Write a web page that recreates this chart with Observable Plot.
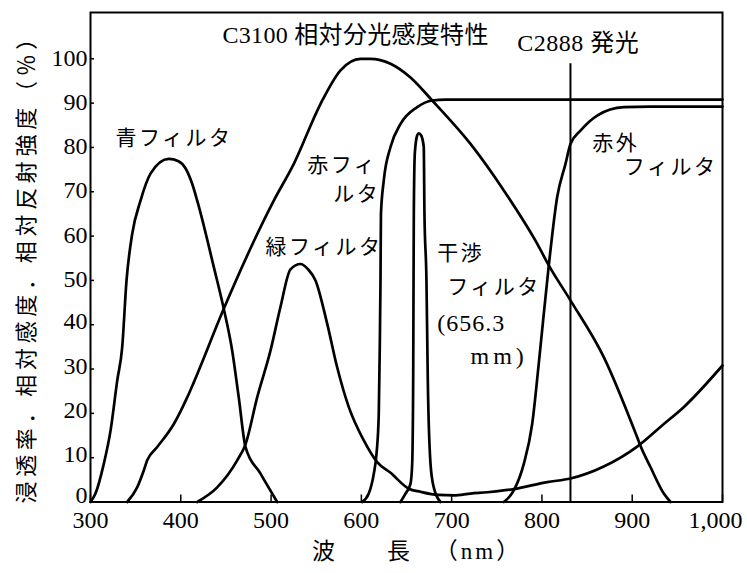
<!DOCTYPE html>
<html>
<head>
<meta charset="utf-8">
<script src="https://cdn.jsdelivr.net/npm/d3@7"></script>
<script src="https://cdn.jsdelivr.net/npm/@observablehq/plot@0.6"></script>
<style>
  body { margin: 0; background: #fff; }
</style>
</head>
<body>
<div id="chart"></div>
<script>
// ---- Data (wavelength nm, percent) ----
const xTicks = [300, 400, 500, 600, 700, 800, 900, 1000];
const yTicks = [0, 10, 20, 30, 40, 50, 60, 70, 80, 90, 100];

const blueFilter = [[300,0],[305.5,1.9],[314.7,8.6],[322.2,16.1],[329.6,27.4],[335.1,34.9],[339.9,50.0],[346.2,60.5],[355.4,68.0],[366.5,74.1],[386.7,77.4],[397.5,76.9],[405.2,75.3],[412.6,71.8],[418.2,68.0],[436.6,53.0],[447.6,43.6],[456.9,34.2],[464.2,23.6],[471.7,12.4],[488.3,6.4],[506.8,0]];

const greenFilter = [[418.2,0],[440.3,3.3],[462.5,9.4],[471.7,13.0],[484.6,23.6],[499.4,34.2],[510.4,44.0],[521.5,52.5],[532.6,53.7],[541,52.5],[549.2,50.0],[562.2,40.2],[573.2,30.4],[586.1,21.4],[602.7,13.9],[617.5,9.0],[632.3,6.6],[652.5,3.0],[665.5,2.3],[685,1.6],[702.4,1.5],[720.9,1.9],[739.4,2.2],[768.8,2.9],[805.8,4.5],[831.6,5.3],[868.5,8.0],[905.5,12.5],[935,17.6],[957,21.4],[1000,30.8]];

const c3100Sensitivity = [[340.6,0],[351.7,3.3],[359,7.1],[362.8,9.4],[373.9,12.4],[392.3,17.6],[407.1,23.6],[414.4,27.0],[447.6,43.6],[503,68.0],[525.2,76.3],[554.7,89.8],[576.9,97.4],[599,100],[610.1,100],[632.3,98.9],[654.4,95.8],[678.5,90.6],[720.9,80.8],[757.8,70.3],[794.7,58.3],[807.6,53.4],[831.6,45.5],[868.5,32.7],[905.5,14.6],[909.1,12.7],[920.2,7.9],[935,1.9],[942.4,0]];

const redFilter = [[600.9,0],[608.2,1.9],[613.8,6.4],[616.8,10.9],[619.3,19.9],[620.4,34.9],[621.2,50.0],[621.7,65.0],[624.8,72.5],[632.3,80.1],[643.4,85.3],[661.8,89.1],[678.5,90.6],[693.2,90.8],[1000,90.8]];

const interferenceFilter = [[643.3,0],[648.9,1.9],[654.4,4.1],[656.3,8.6],[657.4,27.4],[658.1,65.0],[659.2,78.6],[661.8,82.7],[663.6,83.2],[666.3,82.7],[669.1,80.1],[669.9,65.0],[672.1,50.0],[673.6,27.4],[676.6,8.6],[680.2,3.3],[687.6,0]];

const irFilter = [[757.8,0],[768.8,2.6],[779.9,8.6],[789.2,17.6],[796.5,31.2],[807.6,53.4],[816.9,68.8],[826.1,76.3],[831.6,80.8],[842.7,83.8],[861.2,87.2],[890.7,89.1],[920,89.2],[1000,89.2]];

const c2888Emission = [{nm: 831.6, peak: 98.9}];

const curves = [blueFilter, greenFilter, c3100Sensitivity, redFilter, interferenceFilter, irFilter];

// ---- Labels ----
const titleLabels = [
  {text: "C3100 相対分光感度特性", x: 446.2, y: 105.3},
  {text: "C2888 発光", x: 772.6, y: 103.4}
];
const jpLabels = [
  {text: "青フィルタ", x: 327.7, y: 82.1},
  {text: "赤フィ", x: 540, y: 75.9},
  {text: "ルタ", x: 569, y: 69.4},
  {text: "緑フィルタ", x: 493.8, y: 57.4},
  {text: "干渉", x: 684, y: 56.1},
  {text: "フィルタ", x: 695, y: 48.4},
  {text: "赤外", x: 855.6, y: 80.9},
  {text: "フィルタ", x: 890.7, y: 75.5}
];
const serifLabels = [
  {text: "(656.3", x: 684, y: 40.4},
  {text: "mm)", x: 720.9, y: 32.8}
];
const yAxisLabel = "浸透率．相対感度．相対反射強度（％）";
const xLabelParts = [
  {text: "波", x: 558.1},
  {text: "長", x: 641.1},
  {text: "（nm）", x: 729.7}
];

const fmt = d3.format(",");
const plotH = 573 - 12 - 71.5;
const plotW = 747 - 90 - 25;

const yAxisOpts = {anchor: "left", tickSize: 0, tickPadding: 3, label: null, fontSize: 24};
const xAxisOpts = {anchor: "bottom", tickSize: 0, tickPadding: 9, tickFormat: fmt, label: null, fontSize: 24};

const marks = [
  Plot.frame({stroke: "black", strokeWidth: 2}),
  Plot.tickY(yTicks, {y: d => d, insetRight: plotW - 4, stroke: "black", strokeWidth: 1.5}),
  Plot.tickX(xTicks, {x: d => d, insetTop: plotH - 7, stroke: "black", strokeWidth: 1.5}),
  Plot.axisY(yTicks.filter(d => d === 0), {...yAxisOpts, dy: -7}),
  Plot.axisY(yTicks.filter(d => d > 0 && d < 50), {...yAxisOpts, dy: -3}),
  Plot.axisY(yTicks.filter(d => d >= 50), {...yAxisOpts, dy: -1}),
  Plot.axisX(xTicks.filter(d => d < 1000), xAxisOpts),
  Plot.axisX(xTicks.filter(d => d >= 1000), {...xAxisOpts, dx: -7}),
  ...curves.map(c => Plot.line(c, {x: d => d[0], y: d => d[1], curve: "monotone-x", stroke: "black", strokeWidth: 2.7, strokeLinejoin: "round"})),
  Plot.ruleX(c2888Emission, {x: "nm", y1: 0, y2: "peak", stroke: "black", strokeWidth: 2}),
  Plot.text(titleLabels, {x: "x", y: "y", text: "text", textAnchor: "start", fontSize: 24}),
  Plot.text(jpLabels, {x: "x", y: "y", text: "text", textAnchor: "start", fontSize: 21}),
  Plot.text(serifLabels, {x: "x", y: "y", text: "text", textAnchor: "start", fontSize: 24}),
  Plot.text([yAxisLabel], {text: d => d, frameAnchor: "left", textAnchor: "middle", rotate: -90, dx: -64, dy: 6, fontSize: 22}),
  Plot.text(xLabelParts, {x: "x", text: "text", frameAnchor: "bottom", textAnchor: "middle", dy: 56.5, fontSize: 23})
];

const chart = Plot.plot({
  width: 747,
  height: 573,
  marginLeft: 90,
  marginRight: 25,
  marginTop: 12,
  marginBottom: 71.5,
  x: {domain: [300, 1000], label: null},
  y: {domain: [0, 110.45], label: null},
  style: {fontFamily: "'Liberation Serif', 'Noto Sans CJK JP', serif", background: "white", color: "black"},
  marks
});
document.getElementById("chart").append(chart);

// letter spacing of the annotation texts (matched by content)
const spacing = new Map([
  ["C3100 相対分光感度特性", 0.3],
  ["C2888 発光", 0.5],
  ["(656.3", 1],
  ["mm)", 4],
  [yAxisLabel, 4.7],
  ["（nm）", 3]
]);
jpLabels.forEach(d => spacing.set(d.text, 2.5));
d3.select(chart).selectAll("text").each(function () {
  const s = spacing.get(this.textContent);
  if (s != null) this.style.letterSpacing = s + "px";
});
</script>
</body>
</html>
